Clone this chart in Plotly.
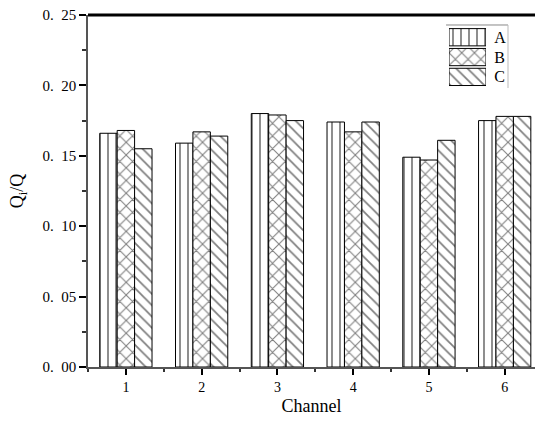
import plotly.graph_objects as go

# Flow share Qi/Q per channel for three configurations
channels = [1, 2, 3, 4, 5, 6]
series_names = ["A", "B", "C"]
values_a = [0.166, 0.159, 0.180, 0.174, 0.149, 0.175]
values_b = [0.168, 0.167, 0.179, 0.167, 0.147, 0.178]
values_c = [0.155, 0.164, 0.175, 0.174, 0.161, 0.178]
y_tick_values = [0.00, 0.05, 0.10, 0.15, 0.20, 0.25]
y_tick_labels = ["0.\u200200", "0.\u200205", "0.\u200210", "0.\u200215", "0.\u200220", "0.\u200225"]

patterns = {"A": "|", "B": "x", "C": "\\"}
pattern_sizes = {"A": 8, "B": 9, "C": 8}
series_values = {"A": values_a, "B": values_b, "C": values_c}

FONT = "Liberation Serif"
SOLID = 0.22
fig = go.Figure()

for name in series_names:
    fig.add_trace(go.Bar(
        x=channels, y=series_values[name], name=name, showlegend=False,
        marker=dict(
            color="white",
            line=dict(color="black", width=1),
            pattern=dict(shape=patterns[name], fgcolor="black", bgcolor="white",
                         size=pattern_sizes[name], solidity=SOLID),
        ),
    ))

# Key drawn as a small inset of horizontal bars
fig.add_trace(go.Bar(
    x=[1, 1, 1], y=series_names, orientation="h", xaxis="x2", yaxis="y2",
    showlegend=False, hoverinfo="skip", width=0.87,
    marker=dict(
        color="white",
        line=dict(color="black", width=1),
        pattern=dict(shape=[patterns[n] for n in series_names], fgcolor="black",
                     bgcolor="white", size=[pattern_sizes[n] for n in series_names],
                     solidity=SOLID),
    ),
))

fig.update_layout(
    width=535, height=421,
    margin=dict(l=88, r=0, t=15, b=54),
    paper_bgcolor="white", plot_bgcolor="white",
    barmode="group", bargap=0.31, bargroupgap=0,
    font=dict(family=FONT, color="black"),
    xaxis=dict(
        range=[0.5, 6.4], tickvals=channels, ticktext=[str(c) for c in channels],
        ticks="outside", ticklen=6, tickwidth=2, tickcolor="black",
        minor=dict(ticks="outside", ticklen=3, tickwidth=1.5, dtick=0.5, tick0=0.5, tickcolor="#333"),
        showline=True, linecolor="#555", linewidth=1.5, showgrid=False, zeroline=False,
        tickfont=dict(size=14, family=FONT),
        title=dict(text="Channel", font=dict(size=18, family=FONT), standoff=6),
    ),
    yaxis=dict(
        range=[0, 0.25], tickvals=y_tick_values, ticktext=y_tick_labels,
        ticks="outside", ticklen=7, tickwidth=1.5, tickcolor="black",
        minor=dict(ticks="outside", ticklen=4, tickwidth=1.5, dtick=0.025, tick0=0, tickcolor="#333"),
        showline=True, linecolor="#555", linewidth=1.5, showgrid=False, zeroline=False,
        tickfont=dict(size=15, family=FONT),
        title=dict(text="Q<sub>i</sub>/Q", font=dict(size=18, family=FONT), standoff=14),
    ),
    xaxis2=dict(domain=[0.8076, 0.8904], anchor="y2", range=[0, 1],
                showticklabels=False, showgrid=False, zeroline=False, showline=False),
    yaxis2=dict(domain=[0.796, 0.965], anchor="x2", side="right",
                autorange="reversed", showgrid=False, zeroline=False, showline=False,
                ticks="outside", ticklen=4, tickcolor="rgba(0,0,0,0)",
                tickfont=dict(size=16, family=FONT)),
    shapes=[
        # heavy frame line along the top of the plot area
        dict(type="line", xref="paper", yref="paper", x0=0, x1=1, y0=1, y1=1,
             line=dict(color="black", width=3)),
        # key box edges
        dict(type="line", xref="paper", yref="paper", x0=0.801, x1=0.9396,
             y0=0.9716, y1=0.9716, line=dict(color="#888", width=1)),
        dict(type="line", xref="paper", yref="paper", x0=0.9396, x1=0.9396,
             y0=0.7926, y1=0.9716, line=dict(color="#bbb", width=1)),
    ],
)

fig.write_html("out.html")
